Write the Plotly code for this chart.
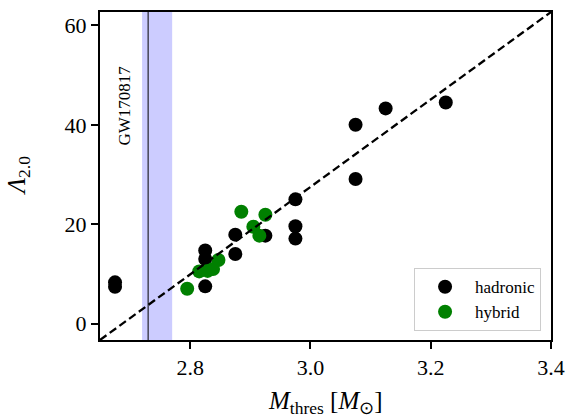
import plotly.graph_objects as go

# ---- data ----
hadronic_M = [2.675, 2.675, 2.825, 2.825, 2.825, 2.875, 2.875, 2.925, 2.975, 2.975, 2.975, 3.075, 3.075, 3.125, 3.225]
hadronic_L = [8.3, 7.4, 14.7, 13.0, 7.5, 17.9, 14.0, 17.7, 25.0, 19.6, 17.1, 40.0, 29.1, 43.3, 44.5]

hybrid_M = [2.795, 2.815, 2.829, 2.838, 2.847, 2.885, 2.905, 2.915, 2.925]
hybrid_L = [7.0, 10.5, 10.6, 11.0, 12.8, 22.5, 19.5, 17.7, 21.9]

fit_M = [2.65, 3.40]
fit_L = [-3.3, 62.7]

gw_M = 2.73
gw_band = [2.72, 2.77]

x_ticks = [2.8, 3.0, 3.2, 3.4]
y_ticks = [0, 20, 40, 60]
x_range = [2.65, 3.40]
y_range = [-3.3, 62.7]

FONT = "Liberation Serif, Times New Roman, serif"

fig = go.Figure()

fig.add_vrect(x0=gw_band[0], x1=gw_band[1], fillcolor="#ccccff", line_width=0, layer="below")
fig.add_vline(x=gw_M, line=dict(color="black", width=1))

fig.add_trace(go.Scatter(x=hadronic_M, y=hadronic_L, mode="markers", name="hadronic",
                         marker=dict(color="black", size=14)))
fig.add_trace(go.Scatter(x=hybrid_M, y=hybrid_L, mode="markers", name="hybrid",
                         marker=dict(color="#008000", size=14)))
fig.add_trace(go.Scatter(x=fit_M, y=fit_L, mode="lines", showlegend=False,
                         line=dict(color="black", width=2.3, dash="8px,4px")))

axis_common = dict(showline=True, linecolor="black", linewidth=2, mirror=True,
                   ticks="outside", ticklen=7, tickwidth=2, tickcolor="black",
                   showgrid=False, zeroline=False,
                   tickfont=dict(family=FONT, size=22, color="black"))

fig.update_xaxes(range=x_range, tickvals=x_ticks, tickformat=".1f", **axis_common)
fig.update_yaxes(range=y_range, tickvals=y_ticks, **axis_common)

fig.add_annotation(text="<i>M</i><sub>thres</sub> [<i>M</i><sub>⊙</sub>]", xref="paper", yref="paper",
                   x=0.5, y=0, yanchor="middle", yshift=-62, showarrow=False,
                   font=dict(family=FONT, size=25, color="black"))
fig.add_annotation(text="<i>Λ</i><sub>2.0</sub>", xref="paper", yref="paper",
                   x=0, y=0.5, xanchor="center", xshift=-82, textangle=-90, showarrow=False,
                   font=dict(family=FONT, size=25, color="black"))
fig.add_annotation(text="GW170817", xref="x", yref="y", x=2.691, y=43.8,
                   textangle=-90, showarrow=False,
                   font=dict(family=FONT, size=17, color="black"))

fig.update_layout(
    width=575, height=418,
    margin=dict(l=100, r=22, t=10, b=78),
    plot_bgcolor="white", paper_bgcolor="white",
    font=dict(family=FONT, color="black"),
    legend=dict(x=0.978, y=0.027, xanchor="right", yanchor="bottom",
                bordercolor="#cccccc", borderwidth=1, bgcolor="white",
                itemwidth=50,
                font=dict(family=FONT, size=17, color="black")),
)

fig.write_html("out.html", config={"displayModeBar": False},
               post_script="document.body.style.margin='0';document.body.style.padding='0';")
